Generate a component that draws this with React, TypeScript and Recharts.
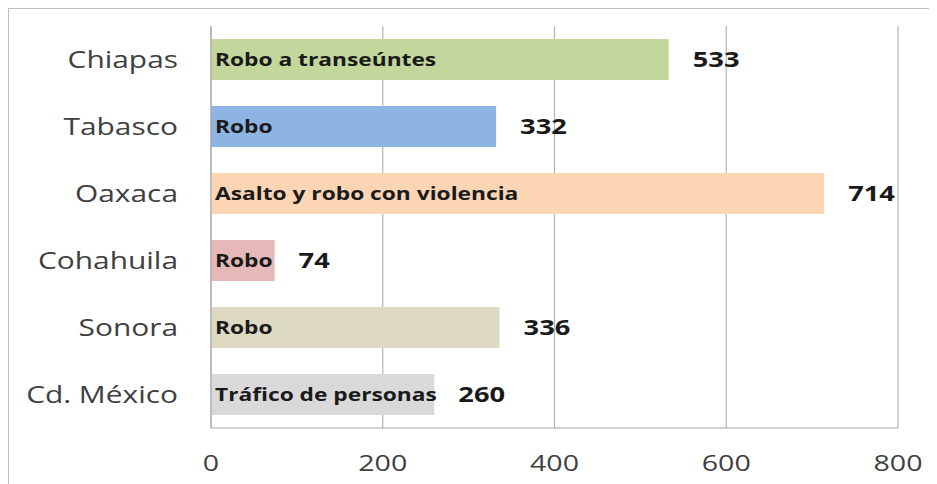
import React from 'react';
import {
  BarChart,
  Bar,
  XAxis,
  YAxis,
  CartesianGrid,
  Cell,
  LabelList,
} from 'recharts';

const states = ['Chiapas', 'Tabasco', 'Oaxaca', 'Cohahuila', 'Sonora', 'Cd. México'];
const cases = [533, 332, 714, 74, 336, 260];
const crimes = [
  'Robo a transeúntes',
  'Robo',
  'Asalto y robo con violencia',
  'Robo',
  'Robo',
  'Tráfico de personas',
];
const xTicks = [0, 200, 400, 600, 800];

const palette = ['#c3d69b', '#8eb4e3', '#fcd5b5', '#e6b9b8', '#ddd9c3', '#d9d9d9'];

const data = states.map((state, i) => ({ state, cases: cases[i], crime: crimes[i] }));

const FONT = '"Open Sans", sans-serif';
const STRETCH = 1.3;

const YTick = (props: any) => {
  const { x, y, payload } = props;
  return (
    <g transform={`translate(${x},${y})`}>
      <text
        transform={`scale(${STRETCH},1)`}
        textAnchor="end"
        dy="0.36em"
        fontFamily={FONT}
        fontSize={23}
        fill="#404040"
      >
        {payload.value}
      </text>
    </g>
  );
};

const XTick = (props: any) => {
  const { x, y, payload } = props;
  return (
    <g transform={`translate(${x},${y})`}>
      <text
        transform={`scale(${STRETCH},1)`}
        textAnchor="middle"
        dy="0.72em"
        fontFamily={FONT}
        fontSize={22}
        fill="#404040"
      >
        {payload.value}
      </text>
    </g>
  );
};

const CrimeLabel = (props: any) => {
  const { x, y, height, value } = props;
  return (
    <g transform={`translate(${x + 4},${y + height / 2})`}>
      <text
        transform={`scale(${STRETCH},1)`}
        dy="0.36em"
        fontFamily={FONT}
        fontWeight="bold"
        fontSize={17.5}
        fill="#1a1a1a"
      >
        {value}
      </text>
    </g>
  );
};

const ValueLabel = (props: any) => {
  const { x, y, width, height, value } = props;
  return (
    <g transform={`translate(${x + width + 24},${y + height / 2})`}>
      <text
        transform={`scale(${STRETCH},1)`}
        dy="0.36em"
        fontFamily={FONT}
        fontWeight="bold"
        fontSize={21}
        fill="#1a1a1a"
      >
        {value}
      </text>
    </g>
  );
};

const App = () => (
  <div
    style={{
      width: 929,
      height: 476,
      borderTop: '1px solid #bfbfbf',
      borderLeft: '1px solid #bfbfbf',
      boxSizing: 'border-box',
      background: '#fff',
    }}
  >
    <BarChart
      width={928}
      height={475}
      data={data}
      layout="vertical"
      margin={{ top: 17, right: 39, left: 0, bottom: 0 }}
      barSize={41}
    >
      <CartesianGrid horizontal={false} stroke="#b3b3b3" strokeWidth={1.2} />
      <XAxis
        type="number"
        domain={[0, 800]}
        ticks={xTicks}
        height={56}
        axisLine={{ stroke: '#a6a6a6' }}
        tickLine={false}
        tickSize={0}
        tickMargin={27}
        tick={<XTick />}
        interval={0}
      />
      <YAxis
        type="category"
        dataKey="state"
        width={202}
        axisLine={{ stroke: '#a6a6a6' }}
        tickLine={false}
        tickSize={0}
        tickMargin={33}
        tick={<YTick />}
        interval={0}
      />
      <Bar dataKey="cases" isAnimationActive={false}>
        {data.map((d, i) => (
          <Cell key={d.state} fill={palette[i]} />
        ))}
        <LabelList dataKey="crime" content={<CrimeLabel />} />
        <LabelList dataKey="cases" content={<ValueLabel />} />
      </Bar>
    </BarChart>
  </div>
);

export default App;
